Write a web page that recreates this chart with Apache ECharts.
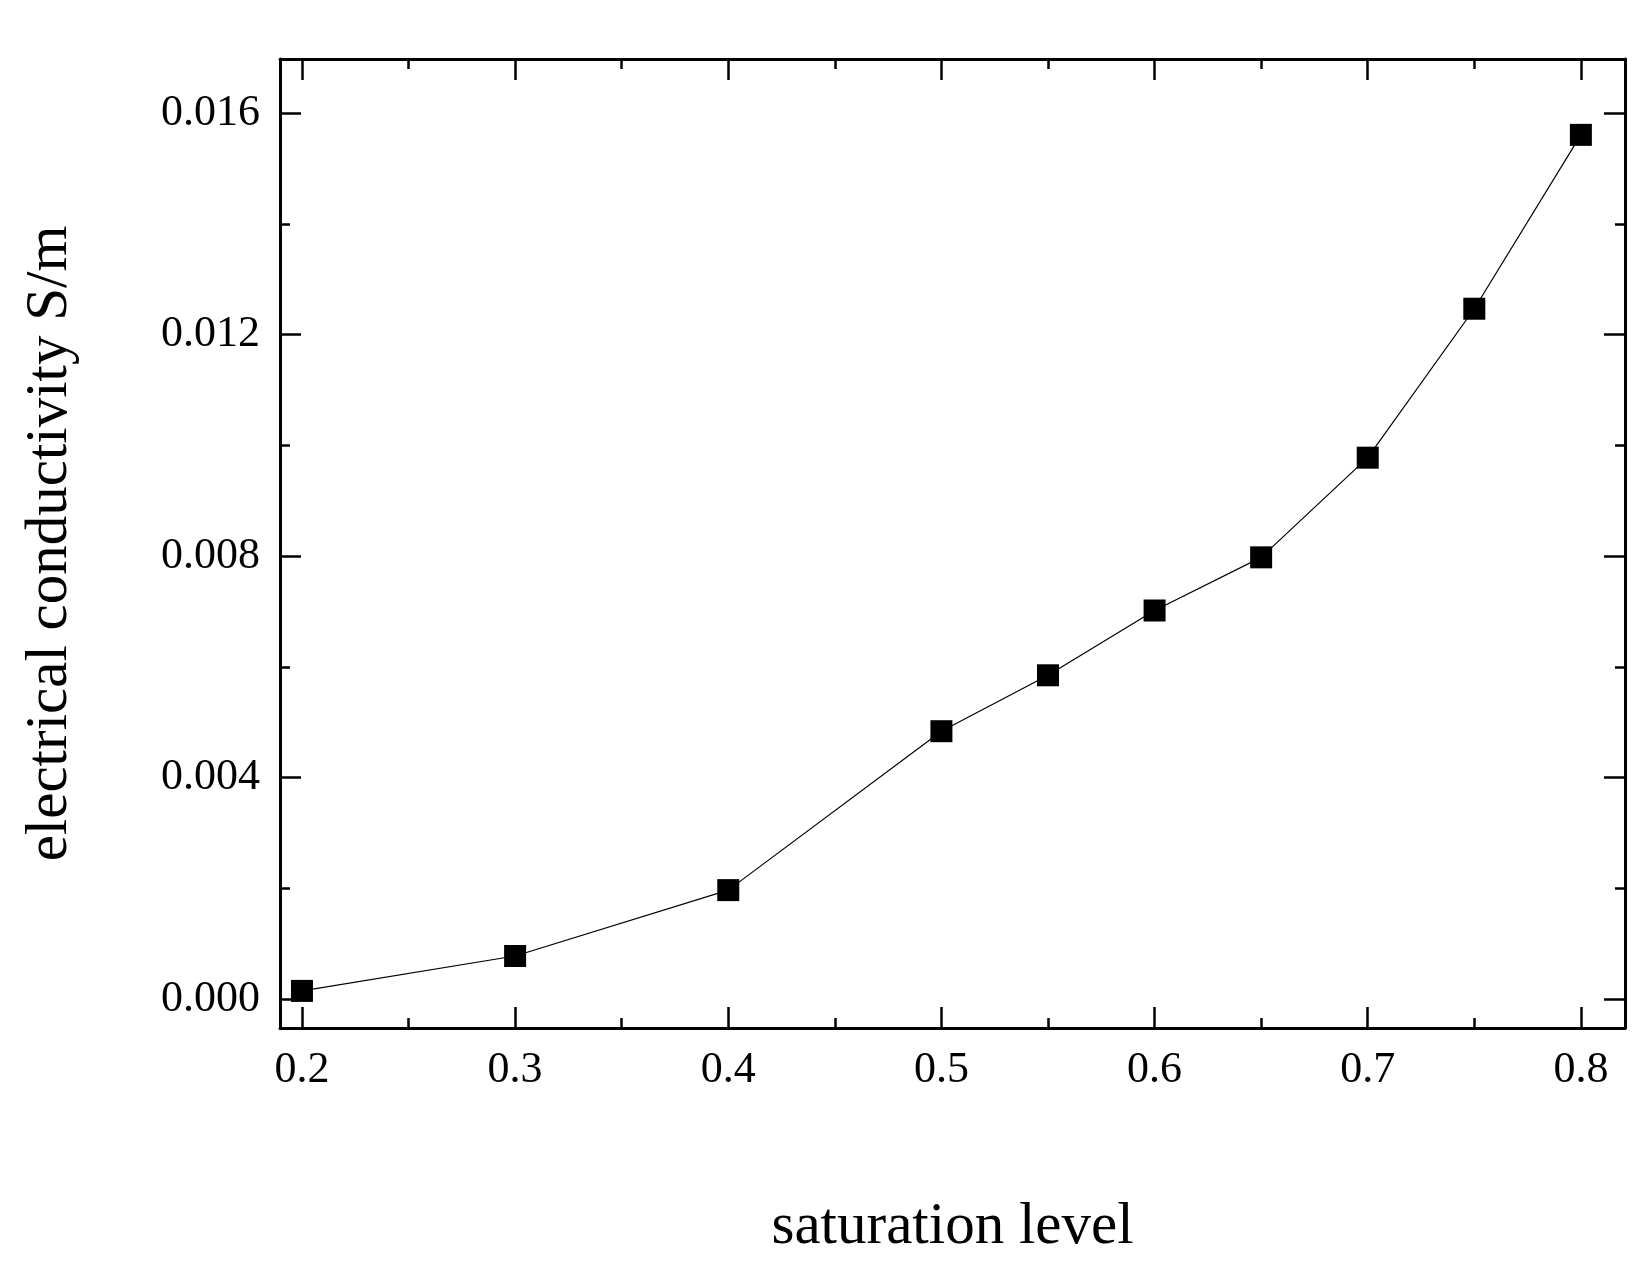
<!DOCTYPE html><html><head><meta charset="utf-8"><script src="https://cdn.jsdelivr.net/npm/echarts@6/dist/echarts.min.js"></script>
<style>html,body{margin:0;background:#fff}#c{width:1648px;height:1262px}</style></head><body><div id="c"></div><script>
const saturation=[0.2,0.3,0.4,0.5,0.55,0.6,0.65,0.7,0.75,0.8];
const conductivity=[0.00015,0.00078,0.00197,0.00484,0.00585,0.00702,0.00798,0.00978,0.01247,0.01561];
const xMajor=[0.2,0.3,0.4,0.5,0.6,0.7,0.8];
const xMinor=[0.25,0.35,0.45,0.55,0.65,0.75];
const yMajor=[0,0.004,0.008,0.012,0.016];
const yMinor=[0.002,0.006,0.01,0.014];
const XMIN=0.1897,XMAX=0.8207,YMIN=-0.00052,YMAX=0.01698;
const font='Liberation Serif';
function ax(pos,min,max,vals,len,label,line,dec){
 return {type:'value',position:pos,min,max,
  axisLine:{show:line,onZero:false,lineStyle:{color:'#000',width:3}},
  axisTick:{show:true,inside:true,length:len,customValues:vals,lineStyle:{color:'#000',width:2.5}},
  axisLabel:{show:label,customValues:vals,color:'#000',fontFamily:font,fontSize:44,margin:20,formatter:v=>v.toFixed(dec)},
  splitLine:{show:false}};
}
const xa=[ax('bottom',XMIN,XMAX,xMajor,21,true,true,1),ax('bottom',XMIN,XMAX,xMinor,10,false,false,1),
 ax('top',XMIN,XMAX,xMajor,21,false,true,1),ax('top',XMIN,XMAX,xMinor,10,false,false,1)];
xa[0].name='saturation level';xa[0].nameLocation='middle';xa[0].nameGap=170;
xa[0].nameTextStyle={fontFamily:font,fontSize:59,color:'#000'};
const ya=[ax('left',YMIN,YMAX,yMajor,21,true,true,3),ax('left',YMIN,YMAX,yMinor,10,false,false,3),
 ax('right',YMIN,YMAX,yMajor,21,false,true,3),ax('right',YMIN,YMAX,yMinor,10,false,false,3)];
ya[0].name='electrical conductivity S/m';ya[0].nameLocation='middle';ya[0].nameGap=200;
ya[0].nameTextStyle={fontFamily:font,fontSize:59,color:'#000'};
const ch=echarts.init(document.getElementById('c'));
ch.setOption({animation:false,
 grid:{left:280,right:23,top:59,bottom:212},
 xAxis:xa,yAxis:ya,
 series:[{type:'line',xAxisIndex:0,yAxisIndex:0,data:saturation.map((x,i)=>[x,conductivity[i]]),
  symbol:'rect',symbolSize:22,itemStyle:{color:'#000'},lineStyle:{color:'#000',width:1.2}}]});
</script></body></html>
